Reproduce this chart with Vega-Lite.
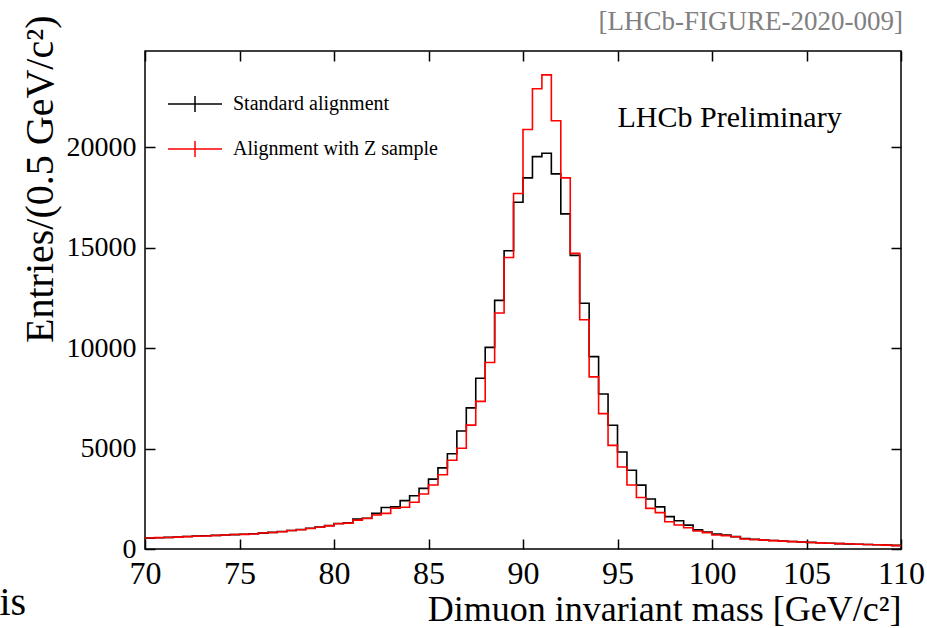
{
  "$schema": "https://vega.github.io/schema/vega-lite/v6.json",
  "width": 756,
  "height": 498,
  "autosize": {"type": "none"},
  "padding": {"left": 145, "top": 51, "right": 26, "bottom": 79},
  "background": "white",
  "config": {
    "view": {"stroke": "black", "strokeWidth": 1.5},
    "font": "Liberation Serif"
  },
  "data": {
    "values": [
      {"m0": 70, "m1": 70.5, "std": 540, "zs": 550},
      {"m0": 70.5, "m1": 71, "std": 560, "zs": 565},
      {"m0": 71, "m1": 71.5, "std": 580, "zs": 570},
      {"m0": 71.5, "m1": 72, "std": 600, "zs": 590},
      {"m0": 72, "m1": 72.5, "std": 620, "zs": 615},
      {"m0": 72.5, "m1": 73, "std": 640, "zs": 635},
      {"m0": 73, "m1": 73.5, "std": 660, "zs": 650},
      {"m0": 73.5, "m1": 74, "std": 680, "zs": 670},
      {"m0": 74, "m1": 74.5, "std": 700, "zs": 700},
      {"m0": 74.5, "m1": 75, "std": 715, "zs": 720},
      {"m0": 75, "m1": 75.5, "std": 735, "zs": 730},
      {"m0": 75.5, "m1": 76, "std": 760, "zs": 750},
      {"m0": 76, "m1": 76.5, "std": 790, "zs": 800},
      {"m0": 76.5, "m1": 77, "std": 830, "zs": 820},
      {"m0": 77, "m1": 77.5, "std": 870, "zs": 860},
      {"m0": 77.5, "m1": 78, "std": 920, "zs": 920},
      {"m0": 78, "m1": 78.5, "std": 970, "zs": 960},
      {"m0": 78.5, "m1": 79, "std": 1030, "zs": 1020},
      {"m0": 79, "m1": 79.5, "std": 1090, "zs": 1080},
      {"m0": 79.5, "m1": 80, "std": 1170, "zs": 1150},
      {"m0": 80, "m1": 80.5, "std": 1270, "zs": 1260},
      {"m0": 80.5, "m1": 81, "std": 1310, "zs": 1290},
      {"m0": 81, "m1": 81.5, "std": 1490, "zs": 1440},
      {"m0": 81.5, "m1": 82, "std": 1530, "zs": 1520},
      {"m0": 82, "m1": 82.5, "std": 1775, "zs": 1690},
      {"m0": 82.5, "m1": 83, "std": 2070, "zs": 1775},
      {"m0": 83, "m1": 83.5, "std": 2100, "zs": 2030},
      {"m0": 83.5, "m1": 84, "std": 2410, "zs": 2080},
      {"m0": 84, "m1": 84.5, "std": 2650, "zs": 2330},
      {"m0": 84.5, "m1": 85, "std": 3020, "zs": 2740},
      {"m0": 85, "m1": 85.5, "std": 3480, "zs": 3190},
      {"m0": 85.5, "m1": 86, "std": 4040, "zs": 3700},
      {"m0": 86, "m1": 86.5, "std": 4740, "zs": 4420},
      {"m0": 86.5, "m1": 87, "std": 5880, "zs": 5020},
      {"m0": 87, "m1": 87.5, "std": 7030, "zs": 6170},
      {"m0": 87.5, "m1": 88, "std": 8500, "zs": 7350},
      {"m0": 88, "m1": 88.5, "std": 10040, "zs": 9290},
      {"m0": 88.5, "m1": 89, "std": 12380, "zs": 11750},
      {"m0": 89, "m1": 89.5, "std": 14850, "zs": 14520},
      {"m0": 89.5, "m1": 90, "std": 17270, "zs": 17700},
      {"m0": 90, "m1": 90.5, "std": 18480, "zs": 20890},
      {"m0": 90.5, "m1": 91, "std": 19540, "zs": 22920},
      {"m0": 91, "m1": 91.5, "std": 19710, "zs": 23610},
      {"m0": 91.5, "m1": 92, "std": 18680, "zs": 21330},
      {"m0": 92, "m1": 92.5, "std": 16690, "zs": 18480},
      {"m0": 92.5, "m1": 93, "std": 14620, "zs": 14720},
      {"m0": 93, "m1": 93.5, "std": 12240, "zs": 11420},
      {"m0": 93.5, "m1": 94, "std": 9580, "zs": 8570},
      {"m0": 94, "m1": 94.5, "std": 7720, "zs": 6740},
      {"m0": 94.5, "m1": 95, "std": 6160, "zs": 5160},
      {"m0": 95, "m1": 95.5, "std": 4830, "zs": 4080},
      {"m0": 95.5, "m1": 96, "std": 3920, "zs": 3190},
      {"m0": 96, "m1": 96.5, "std": 3180, "zs": 2565},
      {"m0": 96.5, "m1": 97, "std": 2490, "zs": 2025},
      {"m0": 97, "m1": 97.5, "std": 2100, "zs": 1810},
      {"m0": 97.5, "m1": 98, "std": 1610, "zs": 1360},
      {"m0": 98, "m1": 98.5, "std": 1410, "zs": 1195},
      {"m0": 98.5, "m1": 99, "std": 1190, "zs": 1060},
      {"m0": 99, "m1": 99.5, "std": 950, "zs": 900},
      {"m0": 99.5, "m1": 100, "std": 850, "zs": 815},
      {"m0": 100, "m1": 100.5, "std": 750, "zs": 700},
      {"m0": 100.5, "m1": 101, "std": 700, "zs": 665},
      {"m0": 101, "m1": 101.5, "std": 615, "zs": 610},
      {"m0": 101.5, "m1": 102, "std": 520, "zs": 500},
      {"m0": 102, "m1": 102.5, "std": 480, "zs": 470},
      {"m0": 102.5, "m1": 103, "std": 450, "zs": 440},
      {"m0": 103, "m1": 103.5, "std": 420, "zs": 415},
      {"m0": 103.5, "m1": 104, "std": 395, "zs": 390},
      {"m0": 104, "m1": 104.5, "std": 370, "zs": 365},
      {"m0": 104.5, "m1": 105, "std": 350, "zs": 345},
      {"m0": 105, "m1": 105.5, "std": 330, "zs": 325},
      {"m0": 105.5, "m1": 106, "std": 310, "zs": 305},
      {"m0": 106, "m1": 106.5, "std": 290, "zs": 290},
      {"m0": 106.5, "m1": 107, "std": 270, "zs": 270},
      {"m0": 107, "m1": 107.5, "std": 255, "zs": 260},
      {"m0": 107.5, "m1": 108, "std": 240, "zs": 240},
      {"m0": 108, "m1": 108.5, "std": 225, "zs": 225},
      {"m0": 108.5, "m1": 109, "std": 210, "zs": 215},
      {"m0": 109, "m1": 109.5, "std": 195, "zs": 195},
      {"m0": 109.5, "m1": 110, "std": 180, "zs": 170}
    ]
  },
  "layer": [
    {
      "transform": [
        {"fold": ["std", "zs"], "as": ["series", "count"]},
        {"fold": ["m0", "m1"], "as": ["edge", "mass"]}
      ],
      "mark": {"type": "line", "strokeWidth": 1.6, "strokeJoin": "miter"},
      "encoding": {
        "x": {
          "field": "mass",
          "type": "quantitative",
          "scale": {"domain": [70, 110], "nice": false, "zero": false},
          "axis": {
            "orient": "bottom",
            "values": [70, 75, 80, 85, 90, 95, 100, 105, 110],
            "domain": false,
            "grid": false,
            "tickSize": -10,
            "tickWidth": 1.5,
            "tickColor": "black",
            "labelFont": "Liberation Serif",
            "labelFontSize": 32,
            "labelColor": "black",
            "labelPadding": 19,
            "labelFlush": false,
            "title": "Dimuon invariant mass [GeV/c²]",
            "titleFont": "Liberation Serif",
            "titleFontSize": 36,
            "titleFontWeight": "normal",
            "titleColor": "black",
            "titleAlign": "right",
            "titleBaseline": "alphabetic",
            "titleX": 756,
            "titleY": 71
          }
        },
        "y": {
          "field": "count",
          "type": "quantitative",
          "scale": {"domain": [0, 24800], "nice": false},
          "axis": {
            "orient": "left",
            "values": [0, 5000, 10000, 15000, 20000],
            "domain": false,
            "grid": false,
            "tickSize": -10,
            "tickWidth": 1.5,
            "tickColor": "black",
            "labelFont": "Liberation Serif",
            "labelFontSize": 28,
            "labelColor": "black",
            "labelPadding": 19,
            "labelFlush": false,
            "format": "d",
            "title": "Entries/(0.5 GeV/c²)",
            "titleFont": "Liberation Serif",
            "titleFontSize": 40,
            "titleFontWeight": "normal",
            "titleColor": "black",
            "titleAngle": 270,
            "titleAlign": "right",
            "titleBaseline": "alphabetic",
            "titleX": -93,
            "titleY": -36
          }
        },
        "color": {
          "field": "series",
          "type": "nominal",
          "scale": {"domain": ["std", "zs"], "range": ["#000000", "#ff0000"]},
          "legend": {
            "orient": "none",
            "legendX": 22,
            "legendY": 25,
            "title": null,
            "direction": "vertical",
            "padding": 0,
            "symbolType": "M-1,0H1M0,-0.3V0.3",
            "symbolSize": 2916,
            "symbolStrokeWidth": 1.5,
            "labelFont": "Liberation Serif",
            "labelFontSize": 20,
            "labelColor": "black",
            "labelOffset": 10,
            "labelLimit": 0,
            "rowPadding": 5,
            "labelExpr": "datum.value == 'std' ? 'Standard alignment' : 'Alignment with Z sample'"
          }
        },
        "order": [
          {"field": "mass", "type": "quantitative"},
          {"field": "edge", "sort": "descending"}
        ]
      }
    },
    {
      "data": {"values": [{"label": "LHCb Preliminary"}]},
      "mark": {"type": "text", "align": "left", "baseline": "alphabetic", "font": "Liberation Serif", "fontSize": 30, "color": "black"},
      "encoding": {
        "x": {
          "datum": 95,
          "type": "quantitative",
          "scale": {"domain": [70, 110], "nice": false, "zero": false},
          "axis": {"orient": "top", "values": [70, 75, 80, 85, 90, 95, 100, 105, 110], "labels": false, "domain": false, "grid": false, "tickSize": -10, "tickWidth": 1.5, "tickColor": "black", "title": null}
        },
        "y": {
          "datum": 21000,
          "type": "quantitative",
          "scale": {"domain": [0, 24800], "nice": false},
          "axis": {"orient": "right", "values": [0, 5000, 10000, 15000, 20000], "labels": false, "domain": false, "grid": false, "tickSize": -10, "tickWidth": 1.5, "tickColor": "black", "title": null}
        },
        "text": {"field": "label"}
      }
    },
    {
      "data": {"values": [{"label": "[LHCb-FIGURE-2020-009]"}]},
      "mark": {"type": "text", "align": "right", "baseline": "alphabetic", "font": "Liberation Serif", "fontSize": 27, "color": "#808080"},
      "encoding": {
        "x": {"datum": 110.1, "type": "quantitative", "scale": {"domain": [70, 110], "nice": false, "zero": false}, "axis": null},
        "y": {"datum": 25850, "type": "quantitative", "scale": {"domain": [0, 24800], "nice": false}, "axis": null},
        "text": {"field": "label"}
      }
    },
    {
      "data": {"values": [{"label": "is"}]},
      "mark": {"type": "text", "align": "left", "baseline": "alphabetic", "font": "Liberation Serif", "fontSize": 40, "color": "black"},
      "encoding": {
        "x": {"datum": 62.3, "type": "quantitative", "scale": {"domain": [70, 110], "nice": false, "zero": false}, "axis": null},
        "y": {"datum": -3300, "type": "quantitative", "scale": {"domain": [0, 24800], "nice": false}, "axis": null},
        "text": {"field": "label"}
      }
    }
  ],
  "resolve": {"axis": {"x": "independent", "y": "independent"}}
}
